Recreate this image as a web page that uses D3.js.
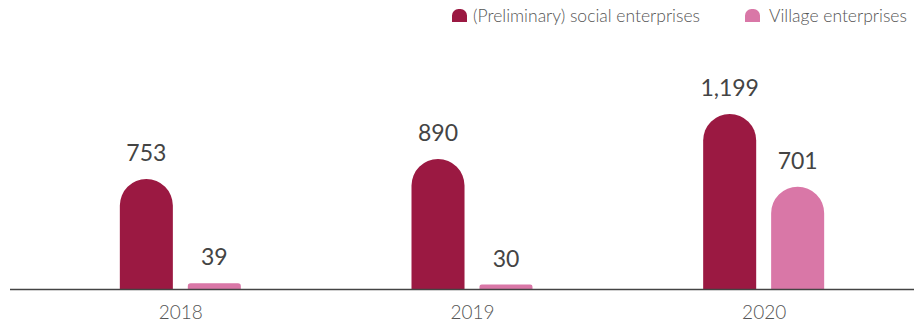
<!DOCTYPE html>
<html lang="en">
<head>
<meta charset="utf-8">
<title>Social enterprises</title>
<style>
    body { margin: 0; background: #fff; }
    svg text { font-family: Lato, "Open Sans", sans-serif; }
</style>
</head>
<body>
<svg id="chart" width="914" height="323"></svg>
<script src="https://d3js.org/d3.v7.min.js"></script>
<script>
    // chart data
    var years = ["2018", "2019", "2020"];
    var seriesNames = ["(Preliminary) social enterprises", "Village enterprises"];
    var socialValues = [753, 890, 1199];
    var villageValues = [39, 30, 701];
    var colors = ["#9b1942", "#d977a7"];

    var width = 914, height = 323;
    var baseY = 289;
    var svg = d3.select("#chart");

    var x = d3.scaleBand().domain(years).range([35, 910]);
    var x1 = d3.scaleBand().domain(seriesNames).range([-61, 60]).paddingInner(0.22);
    var y = d3.scaleLinear().domain([0, 1199]).range([baseY, 114]);

    var rows = [];
    years.forEach(function (yr, i) {
        rows.push({ year: yr, series: seriesNames[0], value: socialValues[i] });
        rows.push({ year: yr, series: seriesNames[1], value: villageValues[i] });
    });

    // bar with rounded top
    function domePath(x0, w, top, bottom) {
        var h = bottom - top;
        var r = Math.min(w / 2, h / 2);
        return "M" + x0 + "," + bottom +
            "V" + (top + r) +
            "A" + r + "," + r + " 0 0 1 " + (x0 + r) + "," + top +
            "H" + (x0 + w - r) +
            "A" + r + "," + r + " 0 0 1 " + (x0 + w) + "," + (top + r) +
            "V" + bottom + "Z";
    }

    var bw = x1.bandwidth();
    svg.selectAll(".bar")
        .data(rows)
        .enter().append("path")
        .attr("class", "bar")
        .attr("fill", function (d) { return colors[seriesNames.indexOf(d.series)]; })
        .attr("d", function (d) {
            var cx = x(d.year) + x.bandwidth() / 2;
            return domePath(cx + x1(d.series), bw, y(d.value), baseY);
        });

    svg.selectAll(".val")
        .data(rows)
        .enter().append("text")
        .attr("class", "val")
        .attr("x", function (d) { return x(d.year) + x.bandwidth() / 2 + x1(d.series) + bw / 2; })
        .attr("y", function (d) { return y(d.value) - 18; })
        .attr("text-anchor", "middle")
        .attr("font-size", 23)
        .attr("fill", "#444")
        .text(function (d) { return d3.format(",")(d.value); });

    // axis
    svg.append("line")
        .attr("x1", 10).attr("x2", width)
        .attr("y1", baseY + 0.5).attr("y2", baseY + 0.5)
        .attr("stroke", "#444").attr("stroke-width", 1.5);

    svg.selectAll(".year")
        .data(years)
        .enter().append("text")
        .attr("class", "year")
        .attr("x", function (d) { return x(d) + x.bandwidth() / 2; })
        .attr("y", 319)
        .attr("text-anchor", "middle")
        .attr("font-size", 19)
        .attr("font-weight", 300)
        .attr("fill", "#555")
        .text(function (d) { return d; });

    // legend
    var legendX = [452, 745];
    var legend = svg.selectAll(".legend")
        .data(seriesNames)
        .enter().append("g")
        .attr("class", "legend")
        .attr("transform", function (d, i) { return "translate(" + legendX[i] + ",0)"; });
    legend.append("path")
        .attr("fill", function (d, i) { return colors[i]; })
        .attr("d", domePath(0, 15, 9, 22));
    legend.append("text")
        .attr("x", function (d, i) { return i === 0 ? 21 : 24; })
        .attr("y", 22)
        .attr("font-size", 17.5)
        .attr("font-weight", 300)
        .attr("fill", "#555")
        .text(function (d) { return d; });
</script>
</body>
</html>
